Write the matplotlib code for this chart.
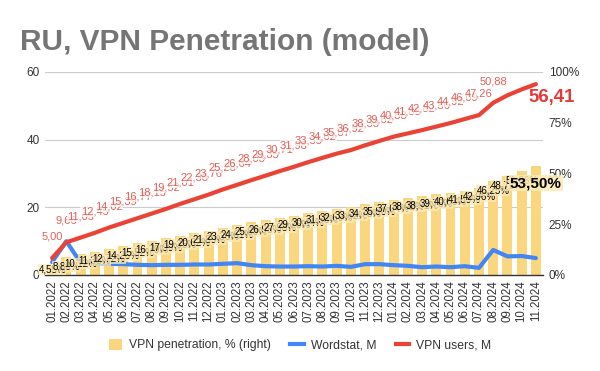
"""RU VPN penetration model chart."""

import matplotlib
matplotlib.use("Agg")
import matplotlib.pyplot as plt
from matplotlib.patches import Patch
from matplotlib.lines import Line2D

plt.rcParams["font.family"] = ["Liberation Sans", "DejaVu Sans"]

months = [
    "01.2022", "02.2022", "03.2022", "04.2022", "05.2022", "06.2022", "07.2022",
    "08.2022", "09.2022", "10.2022", "11.2022", "12.2022", "01.2023", "02.2023",
    "03.2023", "04.2023", "05.2023", "06.2023", "07.2023", "08.2023", "09.2023",
    "10.2023", "11.2023", "12.2023", "01.2024", "02.2024", "03.2024", "04.2024",
    "05.2024", "06.2024", "07.2024", "08.2024", "09.2024", "10.2024", "11.2024",
]
penetration_pct = [
    4.55, 8.80, 10.12, 11.38, 12.72, 14.26, 15.52, 16.79, 17.99, 19.35, 20.62, 21.89,
    23.36, 24.61, 25.89, 26.95, 27.98, 29.26, 30.44, 31.58, 32.69, 33.62, 34.75, 35.90,
    37.04, 38.02, 38.91, 39.76, 40.63, 41.59, 42.96, 46.25, 48.72, 51.06, 53.50,
]
wordstat_m = [
    3.8, 10.0, 3.6, 3.3, 3.3, 3.2, 3.0, 2.9, 3.0, 3.0, 3.1, 3.1,
    3.3, 3.5, 2.9, 2.6, 2.5, 2.5, 2.6, 2.5, 2.7, 2.4, 3.2, 3.2,
    2.9, 2.7, 2.3, 2.5, 2.3, 2.6, 2.1, 7.4, 5.5, 5.6, 5.0,
]
vpn_users_m = [
    5.00, 9.66, 11.05, 12.45, 14.02, 15.39, 16.77, 18.15, 19.52, 21.01, 22.38, 23.76,
    25.28, 26.64, 28.03, 29.35, 30.71, 31.98, 33.35, 34.62, 35.87, 36.92, 38.33, 39.62,
    40.88, 41.85, 42.82, 43.86, 44.92, 46.09, 47.26, 50.88, 53.10, 54.85, 56.41,
]
hidden_user_labels = [32, 33]

YELLOW = "#fad77f"
BLUE = "#4285f4"
RED = "#ea4335"
LABEL_RED = "#e06055"
TEXT = "#333333"


def _fmt(v, pct=False):
    s = f"{v:.2f}".replace(".", ",")
    return s + "%" if pct else s


fig = plt.figure(figsize=(6, 3.71), dpi=100)
ax = fig.add_axes([0.075, 0.2588, 0.83, 0.5472])
x = list(range(len(months)))

# left axis: grid + ticks
ax.set_xlim(-0.5, len(months) - 0.5)
ax.set_ylim(0, 60)
ax.set_yticks([0, 20, 40, 60])
ax.grid(axis="y", color="#cccccc", linewidth=0.8)
ax.set_axisbelow(True)
for s in ax.spines.values():
    s.set_visible(False)
ax.tick_params(axis="y", length=0, pad=4, labelsize=8.5, labelcolor=TEXT)
ax.set_xticks(x)
ax.set_xticklabels(months, rotation=90, fontsize=8.3, color=TEXT)
ax.tick_params(axis="x", length=0, pad=4)

# right axis: bars
ax2 = ax.twinx()
ax2.bar(x, penetration_pct, width=0.7, color=YELLOW, zorder=1)
ax2.set_ylim(0, 100)
ax2.set_yticks([0, 25, 50, 75, 100])
ax2.set_yticklabels([f"{t}%" for t in [0, 25, 50, 75, 100]])
ax2.tick_params(axis="y", length=0, pad=4, labelsize=8.5, labelcolor=TEXT)
for s in ax2.spines.values():
    s.set_visible(False)

# lines on top, sharing the left scale
ax3 = ax.twinx()
ax3.set_ylim(0, 60)
ax3.set_yticks([])
for name, s in ax3.spines.items():
    s.set_visible(name == "bottom")
ax3.spines["bottom"].set_color("#333333")
ax3.spines["bottom"].set_linewidth(1.0)
ax3.plot(x, wordstat_m, color=BLUE, linewidth=3, solid_capstyle="round")
ax3.plot(x, vpn_users_m, color=RED, linewidth=3, solid_capstyle="round")

last = len(months) - 1

# bar labels
for i, p in enumerate(penetration_pct):
    if i == last:
        ax3.annotate(_fmt(p, True), xy=(i, p), xycoords=ax2.transData,
                     xytext=(0, -12), textcoords="offset points", ha="center", va="center",
                     fontsize=11, fontweight="bold", color="black", zorder=6,
                     bbox=dict(boxstyle="square,pad=0.05", fc="#fce9b4", ec="none", alpha=0.85))
        continue
    dy = -3 if i == 0 else -6.5
    ax3.annotate(_fmt(p, True), xy=(i, p), xycoords=ax2.transData,
                 xytext=(0, dy), textcoords="offset points", ha="center", va="center",
                 fontsize=7, color="black", zorder=5,
                 bbox=dict(boxstyle="square,pad=0.05", fc="#fce9b4", ec="none", alpha=0.75))

# VPN users labels
for i, v in enumerate(vpn_users_m):
    if i in hidden_user_labels:
        continue
    if i == last:
        ax3.annotate(_fmt(v), xy=(i, v), xytext=(11, -9.5), textcoords="offset points",
                     ha="center", va="center", fontsize=13.4, fontweight="bold",
                     color="#e53935", zorder=6)
        continue
    ax3.annotate(_fmt(v), xy=(i, v), xytext=(0, 15.5), textcoords="offset points",
                 ha="center", va="center", fontsize=8, color=LABEL_RED, zorder=5,
                 bbox=dict(boxstyle="square,pad=0.05", fc="white", ec="none", alpha=0.7))

# title
fig.text(20 / 600, 1 - 50 / 371, "RU, VPN Penetration (model)", fontsize=21.5,
         fontweight="bold", color="#757575", va="baseline", ha="left")

# legend
handles = [
    Patch(facecolor=YELLOW, edgecolor="none"),
    Line2D([0], [0], color=BLUE, linewidth=3),
    Line2D([0], [0], color=RED, linewidth=3),
]
labels = ["VPN penetration, % (right)", "Wordstat, M", "VPN users, M"]
fig.legend(handles, labels, loc="center", bbox_to_anchor=(0.5, 1 - 345 / 371), ncol=3,
           frameon=False, fontsize=8.7, handlelength=1.1, handleheight=1.0,
           handletextpad=0.6, columnspacing=1.6, labelcolor=TEXT)

fig.savefig("out.png", dpi=100)
plt.close(fig)
